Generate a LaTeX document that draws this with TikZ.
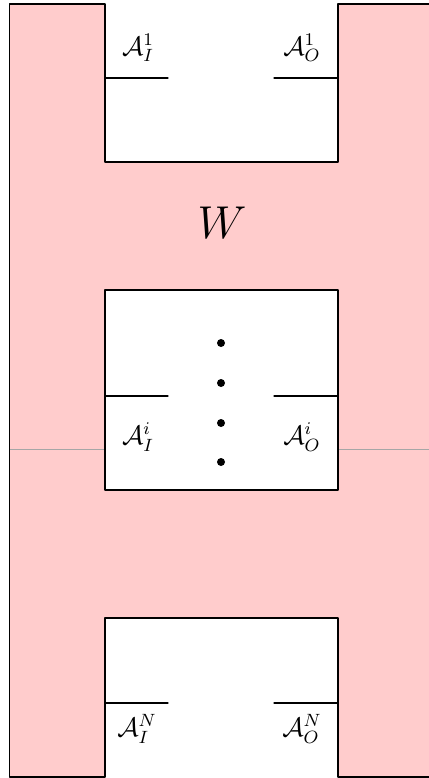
\documentclass[tikz,border=0pt]{standalone}
\usepackage{amsmath,amssymb}
\definecolor{pinkfill}{RGB}{255,204,204}

\begin{document}
\begin{tikzpicture}[x=0.45pt, y=-0.45pt, line join=round, line cap=round, font=\large]
	\def \xl{9.5} \def \xa{105} \def \xb{338} \def \xr{433}
	\def \yt{4} \def \yb{777}
	\useasboundingbox (0,0) rectangle (428,778);
	% pink body
	\fill[pinkfill] (\xl,\yt) -- (\xa,\yt) -- (\xa,162) -- (\xb,162) -- (\xb,\yt) -- (\xr,\yt)
		-- (\xr,\yb) -- (\xb,\yb) -- (\xb,618) -- (\xa,618) -- (\xa,\yb) -- (\xl,\yb) -- cycle;
	\draw[gray!70, line width=0.3pt] (\xl,449) -- (\xa,449);
	\draw[gray!70, line width=0.3pt] (\xb,449) -- (\xr,449);
	\draw[line width=0.5pt] (\xr,\yt) -- (\xb,\yt) -- (\xb,162) -- (\xa,162) -- (\xa,\yt) -- (\xl,\yt)
		-- (\xl,\yb) -- (\xa,\yb) -- (\xa,618) -- (\xb,618) -- (\xb,\yb) -- (\xr,\yb);
	\filldraw[fill=white, line width=0.5pt] (\xa,290) rectangle (\xb,490);
	% ports
	\foreach \y in {78,396,703}{
		\draw[line width=0.5pt] (\xa,\y) -- (168,\y);
		\draw[line width=0.5pt] (274,\y) -- (\xb,\y);
	}
	\node (AI1) at (138,48) {$\mathcal{A}_I^1$};
	\node (AO1) at (302,48) {$\mathcal{A}_O^1$};
	\node (AIi) at (138,437) {$\mathcal{A}_I^i$};
	\node (AOi) at (302,437) {$\mathcal{A}_O^i$};
	\node (AIN) at (137,729) {$\mathcal{A}_I^N$};
	\node (AON) at (302,729) {$\mathcal{A}_O^N$};
	\node (W) at (222,223) {\huge $W$};
	\foreach \y in {343,383,423,462}
		\fill (221,\y) circle (1.8pt);
\end{tikzpicture}
\end{document}
